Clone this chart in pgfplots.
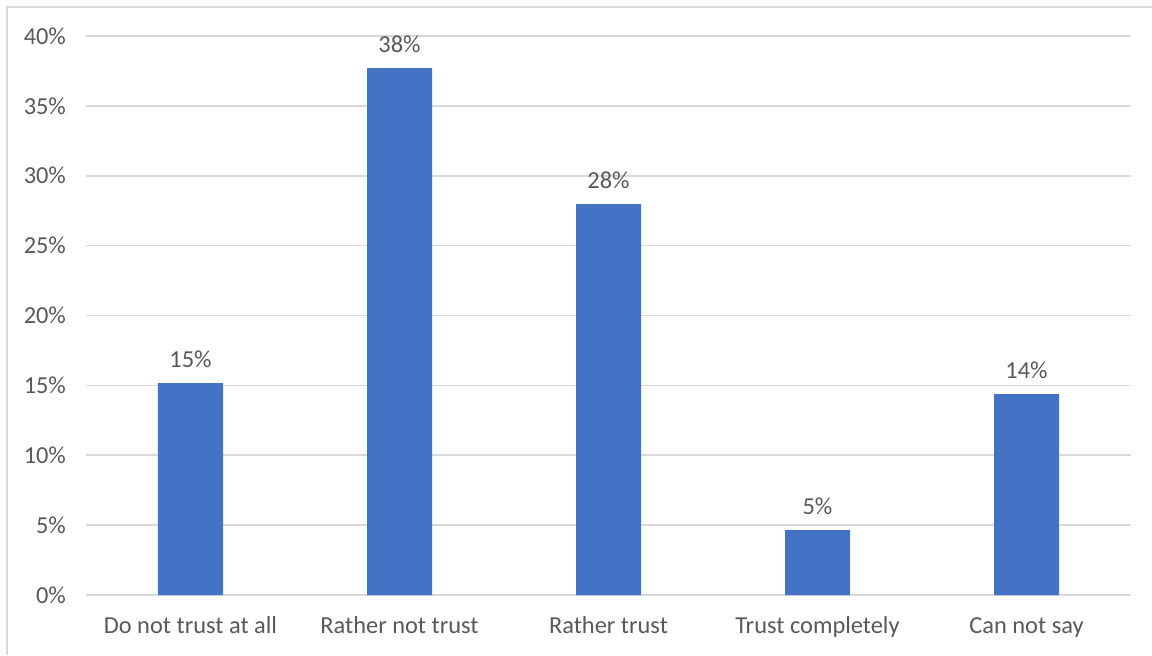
\documentclass[border=0pt]{standalone}
\usepackage{pgfplots}
\pgfplotsset{compat=1.18}
\usepackage{fontspec}
\setmainfont{Carlito}
\definecolor{barblue}{HTML}{4472C4}
\definecolor{gridgray}{HTML}{D9D9D9}
\definecolor{txtgray}{HTML}{595959}
\begin{document}
\begin{tikzpicture}[x=1pt,y=1pt]
\useasboundingbox (0,0) rectangle (576,327.5);
\fill[white] (0,0) rectangle (576,327.5);
\draw[gridgray,line width=1pt] (3.5,0) -- (3.5,324) -- (576,324);
\begin{axis}[
  at={(43pt,30pt)}, anchor=south west,
  scale only axis, width=522.5pt, height=279.5pt,
  xmin=-0.5, xmax=4.5, ymin=0, ymax=40,
  axis line style={draw=none},
  ytick={0,5,...,40},
  yticklabel={\pgfmathprintnumber{\tick}\%},
  /pgf/number format/assume math mode=true,
  ymajorgrids, grid style={gridgray,line width=0.8pt},
  major tick length=0pt,
  xtick=data,
  xticklabels={Do not trust at all,Rather not trust,Rather trust,Trust completely,Can not say},
  tick label style={font=\fontsize{12.2}{14}\selectfont, text=txtgray},
  yticklabel style={xshift=-6.5pt},
  xticklabel style={yshift=-7pt, text height=8.5pt, text depth=2.5pt},
  ybar, bar width=32.5pt,
  nodes near coords={\pgfmathprintnumber[fixed,precision=0]{\pgfplotspointmeta}\%},
  nodes near coords style={font=\fontsize{12.2}{14}\selectfont, text=txtgray, anchor=south, yshift=4pt, /pgf/number format/assume math mode=true},
  clip=false,
]
\addplot[fill=barblue, draw=none] coordinates {(0,15.16) (1,37.7) (2,27.97) (3,4.65) (4,14.38)};
\end{axis}
\end{tikzpicture}
\end{document}
